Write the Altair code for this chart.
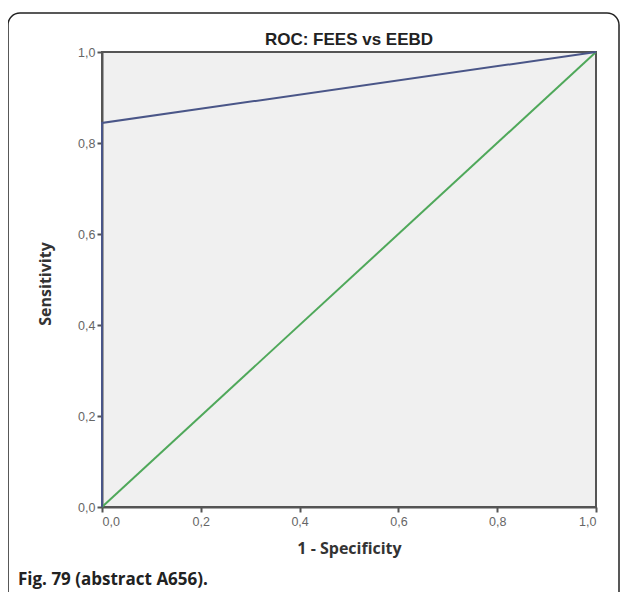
import altair as alt
import pandas as pd

# ROC curve data
fees_fpr = [0.0, 0.0, 1.0]
fees_tpr = [0.0, 0.844, 1.0]
ref_fpr = [0.0, 1.0]
ref_tpr = [0.0, 1.0]
tick_values = [0.0, 0.2, 0.4, 0.6, 0.8, 1.0]
title_text = "ROC: FEES vs EEBD"
x_title = "1 - Specificity"
y_title = "Sensitivity"
caption = "Fig. 79 (abstract A656)."

W, H = 494, 455

fees = pd.DataFrame({"fpr": fees_fpr, "tpr": fees_tpr, "order": list(range(len(fees_fpr)))})
ref = pd.DataFrame({"fpr": ref_fpr, "tpr": ref_tpr, "order": list(range(len(ref_fpr)))})

xscale = alt.Scale(domain=[0, 1], nice=False)
yscale = alt.Scale(domain=[0, 1], nice=False)

label_expr = "replace(format(datum.value, '.1f'), '.', ',')"
common = dict(values=tick_values, labelExpr=label_expr, grid=False, tickSize=5,
              domainColor="#555", tickColor="#555", domainWidth=2, tickWidth=2,
              labelFont="Liberation Sans", labelFontSize=12.5, labelColor="#666666",
              titleFont="Open Sans", titleFontSize=16, titleFontWeight="bold", titleColor="#333")
xaxis = alt.Axis(labelPadding=3, title=x_title, titleX=W / 2, titleY=41,
                 titleBaseline="middle", **common)
yaxis = alt.Axis(labelPadding=2, title=y_title, titleX=-57, titleY=H / 2 + 4, titleAngle=-90,
                 titleAlign="center", titleBaseline="middle", **common)

ref_line = alt.Chart(ref).mark_line(color="#4fa85a", strokeWidth=2).encode(
    x=alt.X("fpr:Q", scale=xscale, axis=xaxis),
    y=alt.Y("tpr:Q", scale=yscale, axis=yaxis),
    order="order:Q",
)
fees_line = alt.Chart(fees).mark_line(color="#4a5688", strokeWidth=2).encode(
    x=alt.X("fpr:Q", scale=xscale),
    y=alt.Y("tpr:Q", scale=yscale),
    order="order:Q",
)

frame = alt.Chart(pd.DataFrame({"k": [0]})).mark_rect(
    filled=False, stroke="#222", strokeWidth=1.5, cornerRadius=12, clip=False
).encode(x=alt.value(-94), x2=alt.value(517), y=alt.value(-39), y2=alt.value(552))

ttl = alt.Chart(pd.DataFrame({"t": [title_text]})).mark_text(
    align="center", baseline="alphabetic", font="Liberation Sans", fontSize=17,
    fontWeight="bold", color="#222"
).encode(text="t:N", x=alt.value(W / 2), y=alt.value(-7))

cap = alt.Chart(pd.DataFrame({"t": [caption]})).mark_text(
    align="left", baseline="middle", font="Open Sans", fontSize=17, fontWeight="bold", color="#222"
).encode(text="t:N", x=alt.value(-84), y=alt.value(528))

chart = alt.layer(frame, ref_line, fees_line, ttl, cap).properties(
    width=W, height=H,
    autosize=alt.AutoSizeParams(type="none"),
    padding={"left": 94, "top": 44, "right": 25, "bottom": 85},
).configure(background="white").configure_view(
    fill="#f0f0f0", stroke="#555", strokeWidth=2
)

chart.save("out.html", embed_options={"renderer": "svg", "actions": False})
